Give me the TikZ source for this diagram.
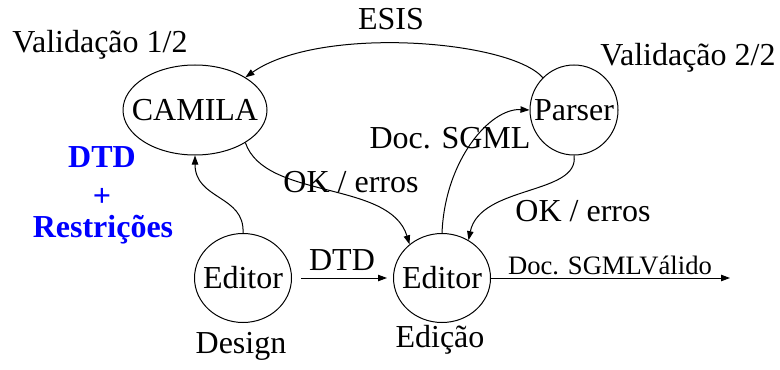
\documentclass[tikz,border=0pt]{standalone}
\usepackage{fontspec}
\setmainfont{Liberation Serif}
\usetikzlibrary{shapes.geometric,arrows.meta}
\tikzset{
    state/.style = {
        draw,
        ellipse,
        inner sep=0pt,
        line width=0.5pt,
        font=\fontsize{16}{19}\selectfont
    },
    flow/.style = {
        line width=0.5pt,
        -{Triangle[length=4.5pt,width=3.2pt]}
    },
    tag/.style = {
        inner sep=0pt,
        font=\fontsize{16}{19}\selectfont
    },
    extra/.style = {
        inner sep=0pt,
        text=blue,
        font=\fontsize{16}{19}\selectfont\bfseries
    }
}

\begin{document}
\begin{tikzpicture}[x=0.5pt,y=-0.5pt]
    \useasboundingbox (0,0) rectangle (780,369);
    % States (text in zero-width box so the ellipse keeps its own size)
    \node[state, minimum width=72pt, minimum height=45pt] (camila) at (195,110) {\makebox[0pt]{CAMILA}};
    \node[state, minimum width=44pt, minimum height=45pt] (parser) at (574,110) {\makebox[0pt]{Parser}};
    \node[state, minimum width=48.5pt, minimum height=44.5pt] (design) at (243,278) {\makebox[0pt]{Editor}};
    \node[state, minimum width=48.5pt, minimum height=44.5pt] (edicao) at (442,278) {\makebox[0pt]{Editor}};
    \coordinate (out) at (730,278);

    % Phase names
    \node[tag] (val1) at (100,45) {Validação 1/2};
    \node[tag] (val2) at (688,58) {Validação 2/2};
    \node[tag] (desname) at (241,346) {Design};
    \node[tag] (ediname) at (440,340) {Edição};

    % DTD + Restricoes
    \node[extra] (dtdx) at (102,157) {DTD};
    \node[extra] (plus) at (102,197) {+};
    \node[extra] (restr) at (103,230) {Restrições};

    % Arrows
    \draw[flow] (parser.134) .. controls (510,40) and (320,25) .. (camila.33);
    \draw[flow] (camila.-33) .. controls (265,200) and (390,180) .. (edicao.134);
    \draw[flow] (design.north) .. controls (245,195) and (195,200) .. (camila.south);
    \draw[flow] (edicao.north) .. controls (445,160) and (490,108) .. (parser.west);
    \draw[flow] (parser.south) .. controls (580,195) and (480,185) .. (edicao.55);
    \draw[flow, shorten <=4.5pt, shorten >=3pt] (design.east) -- (edicao.west);
    \draw[flow] (edicao.east) -- (out);

    % Arrow labels
    \node[tag] (esis) at (391,19) {ESIS};
    \node[tag] (sgml) at (450,138) {Doc. SGML};
    \node[tag] (ok1) at (351,182) {OK / erros};
    \node[tag] (ok2) at (583,211) {OK / erros};
    \node[tag] (dtd) at (342,260) {DTD};
    \node[tag, font=\fontsize{13.3}{16}\selectfont] (valido) at (610,265) {Doc. SGMLVálido};
\end{tikzpicture}
\end{document}
